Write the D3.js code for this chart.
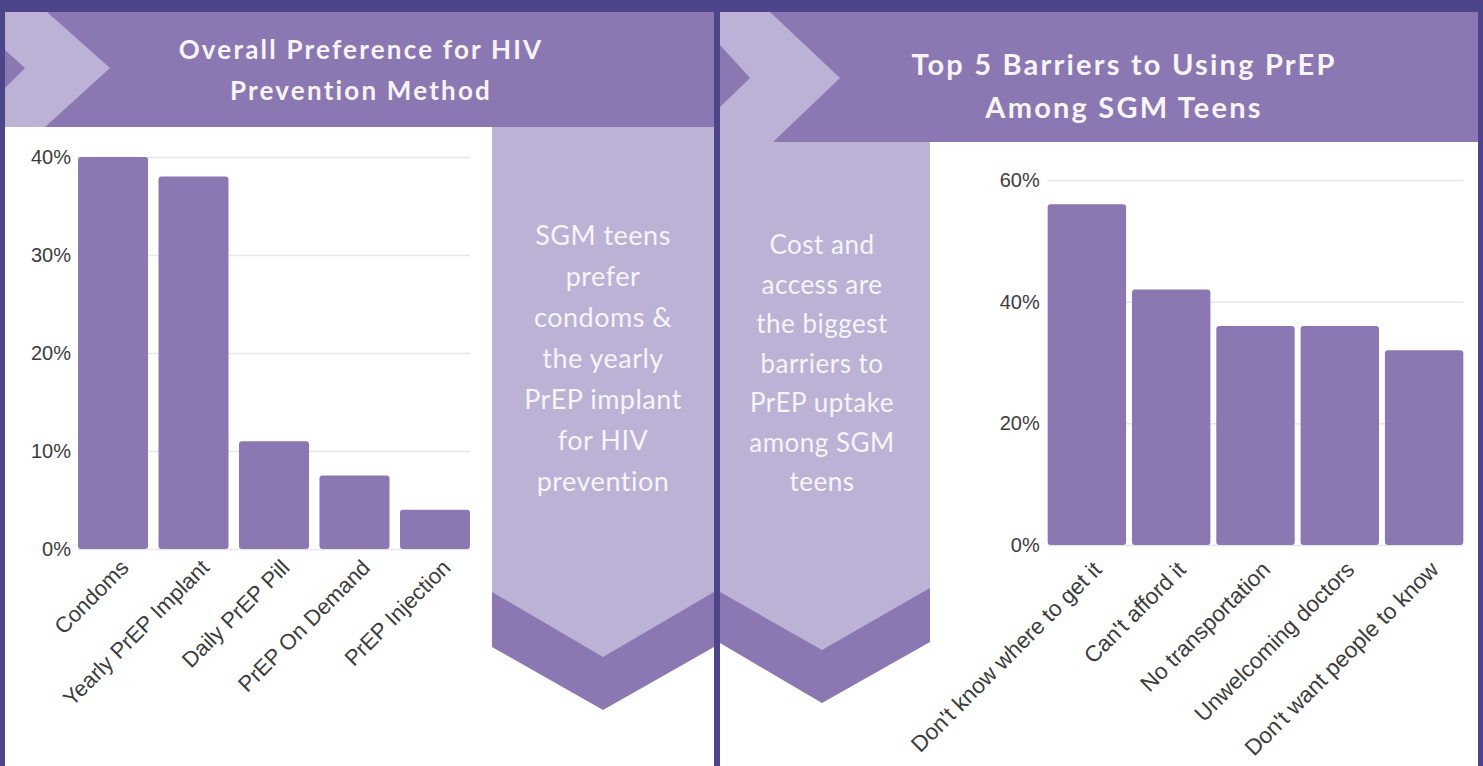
<!DOCTYPE html>
<html lang="en">
<head>
<meta charset="UTF-8">
<title>PrEP charts</title>
<script src="https://cdn.jsdelivr.net/npm/d3@7"></script>
<style>
    * { padding: 0; margin: 0; }
    body { background: #4c4589; width: 1483px; height: 766px; overflow: hidden; }
    svg { display: block; }
    .tick text { font-family: "Liberation Sans", Arial, sans-serif; fill: #3c3c3c; }
</style>
</head>
<body>
<div class="context"></div>
<script>
    // left chart data
    const prefCats = ["Condoms", "Yearly PrEP Implant", "Daily PrEP Pill", "PrEP On Demand", "PrEP Injection"];
    const prefVals = [40, 38, 11, 7.5, 4];
    const prefTicks = [0, 10, 20, 30, 40];

    // right chart data
    const barrierCats = ["Don't know where to get it", "Can't afford it", "No transportation", "Unwelcoming doctors", "Don't want people to know"];
    const barrierVals = [56, 42, 36, 36, 32];
    const barrierTicks = [0, 20, 40, 60];

    const titleLeft = ["Overall Preference for HIV", "Prevention Method"];
    const titleRight = ["Top 5 Barriers to Using PrEP", "Among SGM Teens"];
    const noteLeft = ["SGM teens", "prefer", "condoms &", "the yearly", "PrEP implant", "for HIV", "prevention"];
    const noteRight = ["Cost and", "access are", "the biggest", "barriers to", "PrEP uptake", "among SGM", "teens"];

    let dark = "#4c4589";
    let mid = "#8b77b2";
    let light = "#bbb2d6";
    let white = "#ffffff";
    let ink = "#f7f4fb";

    const svg = d3.select(".context").append("svg")
        .attr("width", 1483)
        .attr("height", 766);

    const line = d3.line();
    function poly(pts, fill) {
        svg.append("path").attr("d", line(pts) + "Z").attr("fill", fill);
    }

    // ---- panel backgrounds ----
    // left panel
    poly([[5, 12], [714, 12], [714, 766], [5, 766]], white);
    poly([[5, 12], [714, 12], [714, 127], [5, 127]], mid);
    poly([[5, 12], [47, 12], [110, 68], [45, 127], [5, 127], [5, 88], [25, 68], [5, 50]], light);
    poly([[492, 127], [714, 127], [714, 647], [603, 710], [492, 647]], mid);
    poly([[492, 127], [714, 127], [714, 592], [603, 657], [492, 592]], light);

    // right panel
    poly([[720, 12], [1478, 12], [1478, 766], [720, 766]], white);
    poly([[720, 12], [1478, 12], [1478, 142], [720, 142]], mid);
    poly([[720, 142], [930, 142], [930, 642], [822, 703], [720, 643]], mid);
    poly([[720, 12], [770, 12], [840, 78], [773, 142], [930, 142], [930, 588], [822, 650], [720, 592],
          [720, 107], [750, 78], [720, 45]], light);

    // ---- titles ----
    function textBlock(lines, cx, y0, step, size, family, weight, spacing) {
        svg.append("g").selectAll("text").data(lines).enter().append("text")
            .attr("x", cx)
            .attr("y", (d, i) => y0 + i * step)
            .attr("text-anchor", "middle")
            .attr("fill", ink)
            .style("font-family", family)
            .style("font-size", size + "px")
            .style("font-weight", weight)
            .style("letter-spacing", spacing + "px")
            .text(d => d);
    }
    textBlock(titleLeft, 361, 59, 41, 26, "Lato", 700, 2.2);
    textBlock(titleRight, 1124, 75, 43, 29, "Lato", 700, 2.2);
    textBlock(noteLeft, 603, 245, 41, 27, "Lato", 400, 0.5);
    textBlock(noteRight, 822, 254, 39.5, 26, "Lato", 400, 0.5);

    // ---- bar charts ----
    function barChart(cats, vals, ticks, o) {
        const x = d3.scaleBand().domain(cats).range([o.x0, o.x1])
            .paddingInner(o.pin).paddingOuter(o.pout);
        const y = d3.scaleLinear().domain([0, o.max]).range([o.base, o.top]);
        const g = svg.append("g");
        const gx0 = x(cats[0]);
        const gx1 = x(cats[cats.length - 1]) + x.bandwidth();

        // grid
        g.append("g")
            .attr("transform", `translate(${gx0},0)`)
            .call(d3.axisLeft(y).tickValues(ticks).tickSize(-(gx1 - gx0)).tickFormat(""))
            .call(a => a.select(".domain").remove())
            .call(a => a.selectAll("line").attr("stroke", "#e7e6ec").attr("stroke-width", 1.5));

        // y labels
        g.append("g")
            .attr("transform", `translate(${gx0},0)`)
            .call(d3.axisLeft(y).tickValues(ticks).tickSize(0).tickPadding(o.ypad).tickFormat(d => d + "%"))
            .call(a => a.select(".domain").remove())
            .call(a => a.selectAll("text").style("font-size", o.yfont + "px"));

        // bars
        g.selectAll("rect.bar").data(vals).enter().append("rect")
            .attr("class", "bar")
            .attr("x", (d, i) => x(cats[i]))
            .attr("y", d => y(d))
            .attr("width", x.bandwidth())
            .attr("height", d => y(0) - y(d))
            .attr("rx", 3)
            .attr("fill", mid);

        // x labels
        g.append("g")
            .attr("transform", `translate(0,${o.base})`)
            .call(d3.axisBottom(x).tickSize(0))
            .call(a => a.select(".domain").remove())
            .call(a => a.selectAll("text")
                .attr("x", 0).attr("y", 0).attr("dy", "0")
                .attr("text-anchor", "end")
                .attr("transform", `translate(${o.ldx},${o.ldy}) rotate(-45)`)
                .style("font-size", o.xfont + "px"));
    }

    barChart(prefCats, prefVals, prefTicks, {
        x0: 74, x1: 474, pin: 0.13, pout: 0.05,
        base: 549, top: 157, max: 40,
        ypad: 7, yfont: 20, xfont: 22, ldx: 17, ldy: 20
    });
    barChart(barrierCats, barrierVals, barrierTicks, {
        x0: 1046, x1: 1465, pin: 0.07, pout: 0.02,
        base: 545, top: 180, max: 60,
        ypad: 8, yfont: 20, xfont: 22.5, ldx: 16, ldy: 26
    });
</script>
</body>
</html>
